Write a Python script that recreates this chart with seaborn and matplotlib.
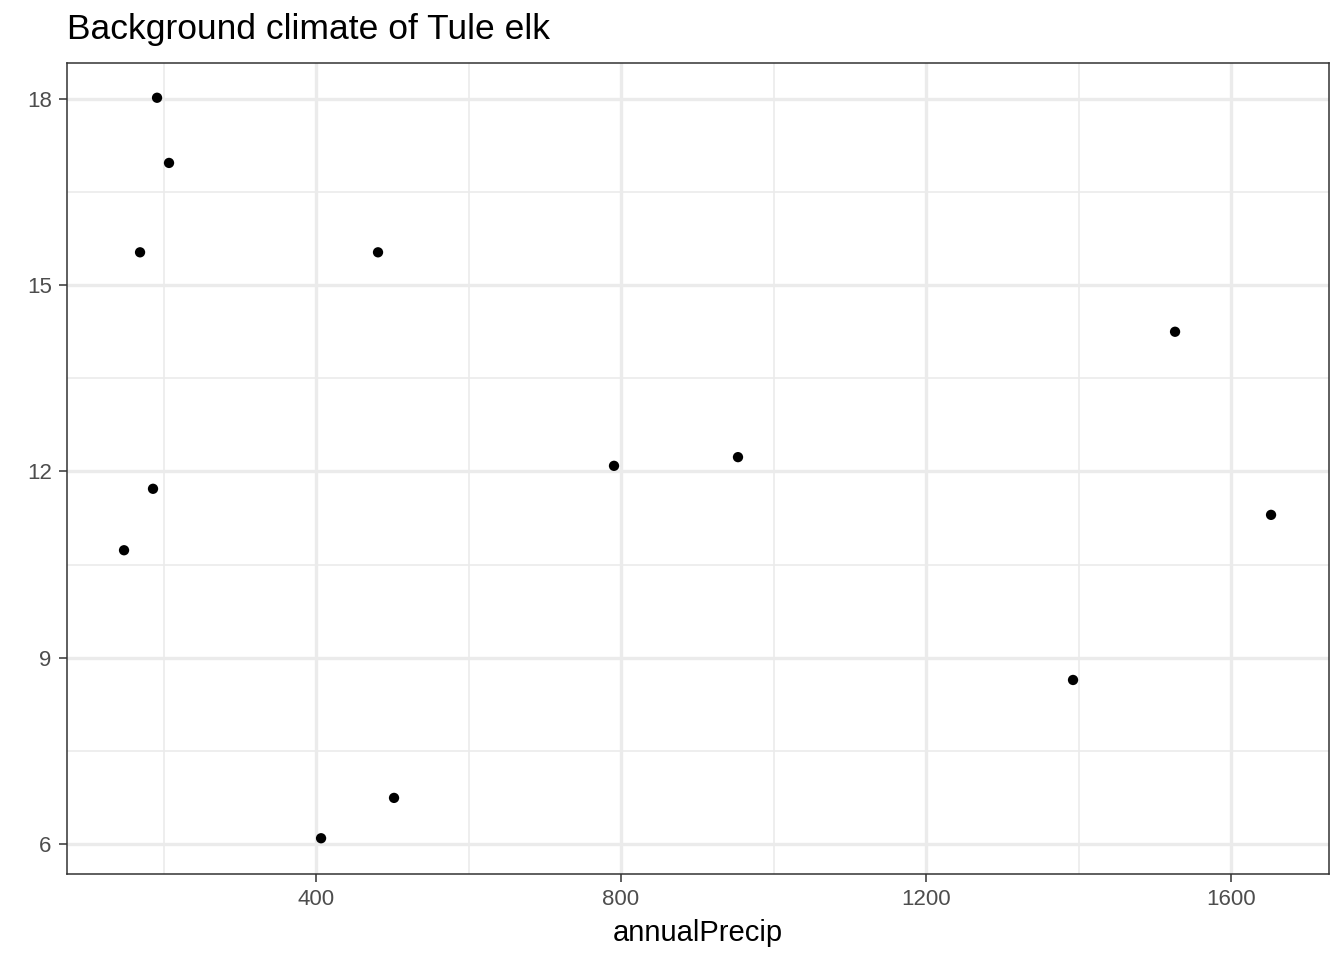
import numpy as np
import pandas as pd
import matplotlib
matplotlib.use("Agg")
import matplotlib.pyplot as plt
import seaborn as sns

# values
annual_precip = [191.5, 207.2, 169.2, 481.3, 1526.6, 790.8, 953.4,
                 186.2, 148.2, 1652.5, 1392.8, 502.3, 406.6]
mean_temp = [18.02, 16.97, 15.53, 15.53, 14.25, 12.09, 12.23,
             11.72, 10.73, 11.30, 8.64, 6.74, 6.09]
x_ticks = [400, 800, 1200, 1600]
x_minor = [200, 600, 1000, 1400]
y_ticks = [6, 9, 12, 15, 18]
y_minor = [7.5, 10.5, 13.5, 16.5]

df = pd.DataFrame({"annualPrecip": annual_precip, "meanTemp": mean_temp})

sns.set_style("white")
plt.rcParams['font.family'] = ['Liberation Sans', 'DejaVu Sans']

fig = plt.figure(figsize=(13.44, 9.6), dpi=100)
ax = fig.add_axes([67 / 1344, 1 - 874 / 960, (1329 - 67) / 1344, (874 - 63) / 960])

sns.scatterplot(data=df, x="annualPrecip", y="meanTemp", ax=ax,
                color="black", s=55, edgecolor="none", zorder=3)

ax.set_xlim(73.4, 1728.5)
ax.set_ylim(5.514, 18.58)
ax.set_xticks(x_ticks)
ax.set_xticks(x_minor, minor=True)
ax.set_yticks(y_ticks)
ax.set_yticks(y_minor, minor=True)
ax.grid(which="major", color="#ebebeb", linewidth=2.4)
ax.grid(which="minor", color="#ebebeb", linewidth=1.2)
ax.set_axisbelow(True)

ax.tick_params(which="major", length=6, width=1.1, color="#333333",
               labelsize=16, labelcolor="#4d4d4d", pad=5, left=True, bottom=True)
ax.tick_params(which="minor", length=0)
for s in ax.spines.values():
    s.set_color("#333333")
    s.set_linewidth(1.1)

ax.set_xlabel("annualPrecip", fontsize=21, color="black", labelpad=6)
ax.set_ylabel("")
ax.set_title("Background climate of Tule elk", fontsize=25.5, loc="left",
             color="black", pad=17)

fig.savefig("out.png", dpi=100)
